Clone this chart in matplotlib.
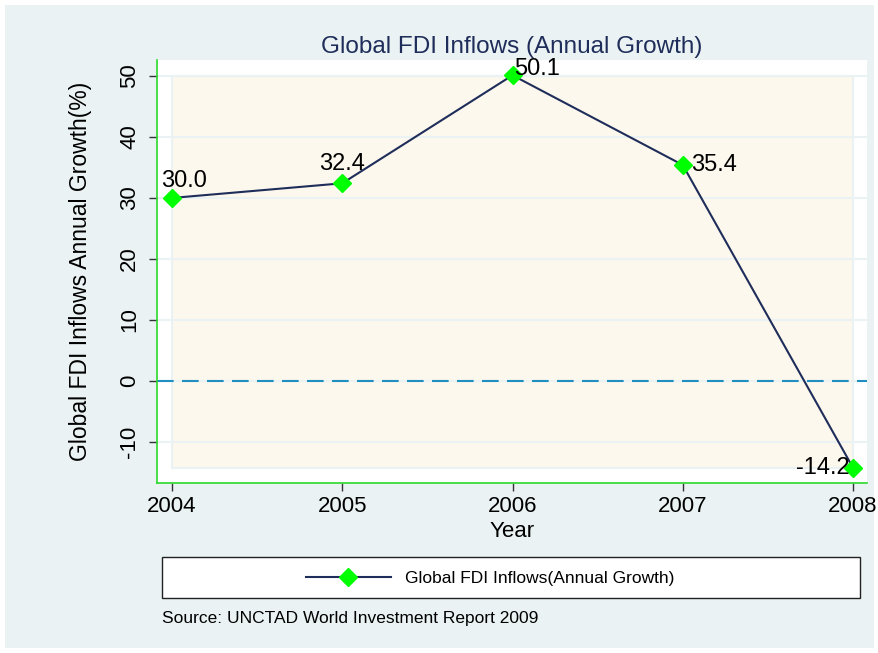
import matplotlib
matplotlib.use("Agg")
import matplotlib.pyplot as plt
from matplotlib.patches import Rectangle
from matplotlib.lines import Line2D

plt.rcParams['font.family'] = ['Liberation Sans', 'DejaVu Sans']
plt.rcParams['axes.unicode_minus'] = False

years = [2004, 2005, 2006, 2007, 2008]
growth = [30.0, 32.4, 50.1, 35.4, -14.2]
yticks = [-10, 0, 10, 20, 30, 40, 50]
# label offsets (px) and alignment per point
lab_off = [(-11, 6), (0, 8), (2, 0), (8, 0), (-3, 0)]
lab_ha = ['left', 'center', 'left', 'left', 'right']
lab_va = ['bottom', 'bottom', 'baseline', 'center', 'center']

bg = '#EAF2F3'
navy = '#1F2D5A'

fig = plt.figure(figsize=(8.79, 6.53), dpi=100)
fig.patch.set_facecolor(bg)
fig.patch.set_edgecolor('white')
fig.patch.set_linewidth(6)

ax = fig.add_axes([157/879, 1-483/653, 710/879, 423/653])
ax.set_facecolor('white')
ax.set_xlim(2004 - 15/170.25, 2008 + 14/170.25)
ax.set_ylim(-16.7, 52.6)

# inner plot region
ax.add_patch(Rectangle((2004, min(growth)), 4, 50 - min(growth),
                       facecolor='#FDF8ED', edgecolor=bg, lw=1.5, zorder=0))
for t in yticks:
    ax.axhline(t, color=bg, lw=1.5, zorder=0.5)
ax.axhline(0, color='#1F8FC2', lw=1.5, dashes=(8, 4), zorder=1)

ax.plot(years, growth, color=navy, lw=1.5, marker='D', markersize=9,
        markerfacecolor='#00FF00', markeredgecolor='#00FF00', zorder=3,
        label='Global FDI Inflows(Annual Growth)')

for x, y, off, ha, va in zip(years, growth, lab_off, lab_ha, lab_va):
    ax.annotate(f'{y:.1f}', (x, y), xytext=(off[0]*0.72, off[1]*0.72),
                textcoords='offset points', ha=ha, va=va, fontsize=17, zorder=4)

for s in ['top', 'right']:
    ax.spines[s].set_visible(False)
for s in ['left', 'bottom']:
    ax.spines[s].set_color('#2BD92B')
    ax.spines[s].set_linewidth(1.2)

ax.set_xticks(years)
ax.set_yticks(yticks)
ax.tick_params(axis='both', length=6, width=1, color='#333333', labelsize=16)
ax.tick_params(axis='y', pad=6)
plt.setp(ax.get_yticklabels(), rotation=90, va='center')

ax.set_title('Global FDI Inflows (Annual Growth)', color=navy, fontsize=17.5, pad=5)
ax.set_xlabel('Year', fontsize=16, labelpad=3)
ax.set_ylabel('Global FDI Inflows Annual Growth(%)', fontsize=16.5, labelpad=20)

# legend box
fig.patches.append(Rectangle((162/879, 1-598/653), 698/879, 41/653,
                             transform=fig.transFigure, facecolor='white',
                             edgecolor='#222222', lw=1))
h = Line2D([], [], color=navy, lw=1.5, marker='D', markersize=9,
           markerfacecolor='#00FF00', markeredgecolor='#00FF00')
fig.legend([h], ['Global FDI Inflows(Annual Growth)'], loc='center',
           bbox_to_anchor=(490/879, 1-578/653), frameon=False, fontsize=12.5,
           handlelength=4.9, handletextpad=0.8)

fig.text(162/879, 1-618/653, 'Source: UNCTAD World Investment Report 2009',
         ha='left', va='center', fontsize=12.5)

fig.savefig('out.png', dpi=100, facecolor=fig.get_facecolor(),
            edgecolor=fig.get_edgecolor())
